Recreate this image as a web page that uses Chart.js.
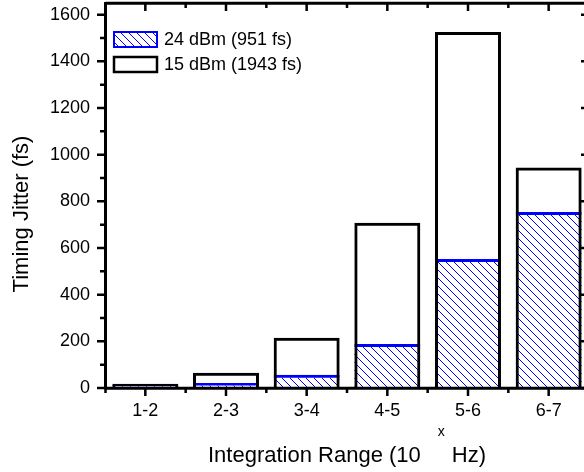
<!DOCTYPE html>
<html>
<head>
<meta charset="utf-8">
<script src="https://cdn.jsdelivr.net/npm/chart.js@4/dist/chart.umd.min.js"></script>
<style>
html,body{margin:0;padding:0;background:#fff;overflow:hidden;width:584px;height:472px;}
canvas{display:block;}
</style>
</head>
<body>
<canvas id="c" width="600" height="472"></canvas>
<script>
const categories = ['1-2', '2-3', '3-4', '4-5', '5-6', '6-7'];
const jitter15dBm = [18, 65, 215, 708, 1526, 945];
const jitter24dBm = [14, 21, 57, 189, 553, 754];
const legendLabels = ['24 dBm (951 fs)', '15 dBm (1943 fs)'];
const yTickValues = [0, 200, 400, 600, 800, 1000, 1200, 1400, 1600];
const yMinorValues = [100, 300, 500, 700, 900, 1100, 1300, 1500];
const yTitle = 'Timing Jitter (fs)';
const xTitleParts = ['Integration Range (10', 'x', 'Hz)'];

const FONT = "'Liberation Sans', Arial, sans-serif";
const BLUE = '#0000ff';

function makeHatch() {
  const c = document.createElement('canvas');
  c.width = 8; c.height = 8;
  const g = c.getContext('2d');
  g.fillStyle = BLUE;
  for (let i = 0; i < 8; i++) g.fillRect(i, i, 1, 1);
  return g.createPattern(c, 'repeat');
}
const hatch = makeHatch();

const framePlugin = {
  id: 'frame',
  afterDraw(chart) {
    const ctx = chart.ctx;
    const a = chart.chartArea;
    const xs = chart.scales.x, ys = chart.scales.y;
    ctx.save();
    ctx.strokeStyle = '#000';
    ctx.lineCap = 'butt';
    // frame
    ctx.lineWidth = 3;
    ctx.beginPath();
    ctx.moveTo(a.left + 0.5, a.bottom + 0.3);
    ctx.lineTo(a.right, a.bottom + 0.3);
    ctx.moveTo(a.left + 0.5, a.top + 0.3);
    ctx.lineTo(a.right, a.top + 0.3);
    ctx.moveTo(a.left + 0.5, a.top - 1);
    ctx.lineTo(a.left + 0.5, a.bottom + 1.5);
    ctx.moveTo(a.right, a.top - 1);
    ctx.lineTo(a.right, a.bottom + 1.5);
    ctx.stroke();
    // y ticks
    ctx.lineWidth = 2.5;
    ctx.beginPath();
    yTickValues.forEach(v => {
      const y = ys.getPixelForValue(v);
      ctx.moveTo(a.left - 8, y); ctx.lineTo(a.left, y);
      ctx.moveTo(a.right - 8, y); ctx.lineTo(a.right, y);
    });
    yMinorValues.forEach(v => {
      const y = ys.getPixelForValue(v);
      ctx.moveTo(a.left - 5, y); ctx.lineTo(a.left, y);
      ctx.moveTo(a.right - 5, y); ctx.lineTo(a.right, y);
    });
    // x ticks: major at category centres, minor at category boundaries
    const n = categories.length;
    const half = (xs.getPixelForValue(1) - xs.getPixelForValue(0)) / 2;
    categories.forEach((c, i) => {
      const x = xs.getPixelForValue(i);
      ctx.moveTo(x, a.bottom); ctx.lineTo(x, a.bottom + 8);
      ctx.moveTo(x, a.top); ctx.lineTo(x, a.top + 8);
    });
    for (let i = 0; i <= n; i++) {
      const xm = xs.getPixelForValue(0) - half + 2 * half * i + (i === 0 ? 0.5 : 0);
      ctx.moveTo(xm, a.bottom); ctx.lineTo(xm, a.bottom + 5);
      ctx.moveTo(xm, a.top); ctx.lineTo(xm, a.top + 5);
    }
    ctx.stroke();

    // legend
    ctx.lineWidth = 2;
    ctx.fillStyle = hatch;
    ctx.fillRect(114, 32, 43, 15);
    ctx.strokeStyle = BLUE;
    ctx.strokeRect(114, 32, 43, 15);
    ctx.lineWidth = 2.5;
    ctx.strokeStyle = '#000';
    ctx.strokeRect(114, 57, 43, 15);
    ctx.fillStyle = '#000';
    ctx.font = '18px ' + FONT;
    ctx.textAlign = 'left';
    ctx.textBaseline = 'middle';
    ctx.fillText(legendLabels[0], 164, 40);
    ctx.fillText(legendLabels[1], 164, 65);

    // y title
    ctx.save();
    ctx.translate(22, 214);
    ctx.rotate(-Math.PI / 2);
    ctx.font = '22px ' + FONT;
    ctx.textAlign = 'center';
    ctx.textBaseline = 'middle';
    ctx.fillText(yTitle, 0, 0);
    ctx.restore();

    // x title with superscript
    ctx.textBaseline = 'alphabetic';
    ctx.textAlign = 'left';
    ctx.font = '22px ' + FONT;
    const w1 = ctx.measureText(xTitleParts[0]).width;
    const w3 = ctx.measureText(xTitleParts[2]).width;
    ctx.font = '14px ' + FONT;
    const w2 = ctx.measureText(xTitleParts[1]).width;
    const gap1 = 17, gap2 = 7;
    const total = w1 + gap1 + w2 + gap2 + w3;
    const cx = (a.left + a.right) / 2;
    let x0 = cx - total / 2;
    const base = 462;
    ctx.font = '22px ' + FONT;
    ctx.fillText(xTitleParts[0], x0, base);
    ctx.font = '14px ' + FONT;
    ctx.fillText(xTitleParts[1], x0 + w1 + gap1, base - 26);
    ctx.font = '22px ' + FONT;
    ctx.fillText(xTitleParts[2], x0 + w1 + gap1 + w2 + gap2, base);
    ctx.restore();
  }
};

new Chart(document.getElementById('c'), {
  type: 'bar',
  data: {
    labels: categories,
    datasets: [
      {
        label: legendLabels[0],
        data: jitter24dBm,
        backgroundColor: hatch,
        borderColor: BLUE,
        borderWidth: {top: 3, left: 0, right: 0, bottom: 0},
        grouped: false,
        order: 1,
        barPercentage: 0.818,
        categoryPercentage: 1
      },
      {
        label: legendLabels[1],
        data: jitter15dBm,
        backgroundColor: 'rgba(0,0,0,0)',
        borderColor: '#000',
        borderWidth: 3,
        grouped: false,
        order: 0,
        barPercentage: 0.818,
        categoryPercentage: 1
      }
    ]
  },
  options: {
    responsive: false,
    animation: false,
    devicePixelRatio: 1,
    layout: {autoPadding: false, padding: {top: 3, left: 0, right: 11, bottom: 0}},
    plugins: {legend: {display: false}, tooltip: {enabled: false}, title: {display: false}},
    scales: {
      x: {
        type: 'category',
        offset: true,
        grid: {display: false, drawTicks: false},
        border: {display: false},
        ticks: {color: '#000', font: {size: 18, family: FONT}, padding: 12, maxRotation: 0, autoSkip: false},
        afterFit: s => { s.height = 84; s.paddingLeft = 0; s.paddingRight = 0; s.paddingTop = 0; s.paddingBottom = 0; }
      },
      y: {
        min: 0,
        max: 1650,
        grid: {display: false, drawTicks: false},
        border: {display: false},
        ticks: {color: '#000', font: {size: 18, family: FONT}, padding: 15, callback: v => String(v)},
        afterBuildTicks: s => { s.ticks = yTickValues.map(v => ({value: v})); },
        afterFit: s => { s.width = 105; s.paddingLeft = 0; s.paddingRight = 0; s.paddingTop = 0; s.paddingBottom = 0; }
      }
    }
  },
  plugins: [framePlugin]
});
</script>
</body>
</html>
